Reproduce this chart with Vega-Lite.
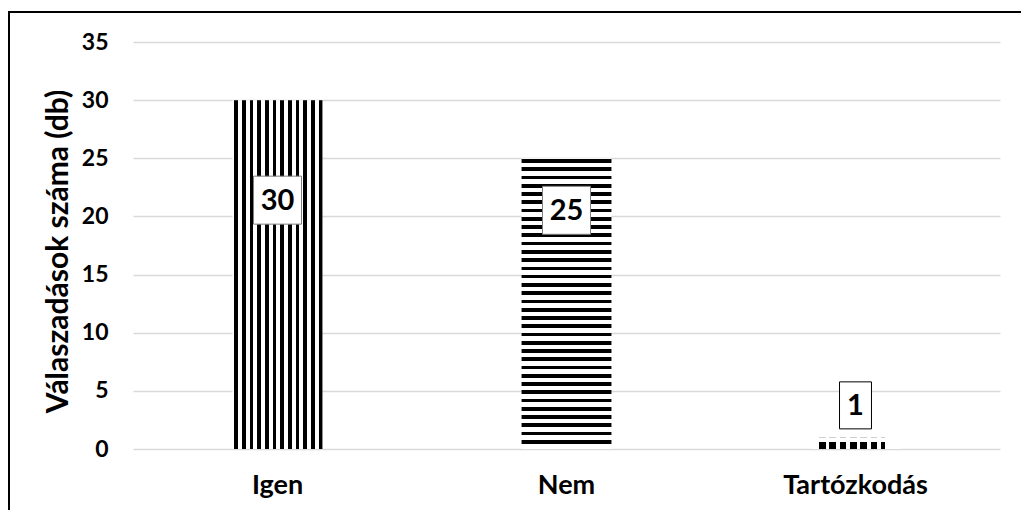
{
  "$schema": "https://vega.github.io/schema/vega-lite/v6.json",
  "width": 867,
  "height": 407,
  "autosize": {"type": "none"},
  "padding": {"left": 133, "top": 42, "right": 21, "bottom": 61},
  "background": "white",
  "data": {
    "values": [
      {"valasz": "Igen", "db": 30},
      {"valasz": "Nem", "db": 25},
      {"valasz": "Tartózkodás", "db": 1}
    ]
  },
  "encoding": {
    "x": {
      "field": "valasz",
      "type": "nominal",
      "sort": null,
      "scale": {"paddingInner": 0.689, "paddingOuter": 0.3445},
      "axis": {
        "title": null,
        "labelAngle": 0,
        "labelFont": "Lato",
        "labelFontSize": 27,
        "labelFontWeight": "bold",
        "labelColor": "#000000",
        "labelPadding": 23,
        "ticks": false,
        "domain": false
      }
    },
    "y": {
      "field": "db",
      "type": "quantitative",
      "scale": {"domain": [0, 35], "nice": false},
      "axis": {
        "title": "Válaszadások száma (db)",
        "titleFont": "Lato",
        "titleFontSize": 30,
        "titleFontWeight": "bold",
        "titleColor": "#000000",
        "titlePadding": 8,
        "titleY": 209,
        "values": [0, 5, 10, 15, 20, 25, 30, 35],
        "labelFont": "Lato",
        "labelFontSize": 23,
        "labelFontWeight": "bold",
        "labelColor": "#000000",
        "labelPadding": 25,
        "ticks": false,
        "domain": false,
        "grid": true,
        "gridColor": "#d9d9d9",
        "gridWidth": 1.3
      }
    }
  },
  "layer": [
    {
      "data": {"values": [{}]},
      "mark": {"type": "rect", "fill": null, "stroke": "#000000", "strokeWidth": 2},
      "encoding": {
        "x": {"value": -124},
        "x2": {"value": 889},
        "y": {"value": -30},
        "y2": {"value": 470}
      }
    },
    {
      "transform": [{"filter": "datum.valasz === 'Igen'"}],
      "layer": [
        {
          "mark": {
            "type": "bar",
            "color": {
              "gradient": "linear",
              "x1": 0, "y1": 0, "x2": 1, "y2": 0,
              "stops": [
                {"offset": 0, "color": "#ffffff"},
                {"offset": 0.02, "color": "#ffffff"}, {"offset": 0.02, "color": "#000000"},
                {"offset": 0.0602, "color": "#000000"}, {"offset": 0.0602, "color": "#ffffff"},
                {"offset": 0.1054, "color": "#ffffff"}, {"offset": 0.1054, "color": "#000000"},
                {"offset": 0.1456, "color": "#000000"}, {"offset": 0.1456, "color": "#ffffff"},
                {"offset": 0.1909, "color": "#ffffff"}, {"offset": 0.1909, "color": "#000000"},
                {"offset": 0.2311, "color": "#000000"}, {"offset": 0.2311, "color": "#ffffff"},
                {"offset": 0.2763, "color": "#ffffff"}, {"offset": 0.2763, "color": "#000000"},
                {"offset": 0.3165, "color": "#000000"}, {"offset": 0.3165, "color": "#ffffff"},
                {"offset": 0.3618, "color": "#ffffff"}, {"offset": 0.3618, "color": "#000000"},
                {"offset": 0.402, "color": "#000000"}, {"offset": 0.402, "color": "#ffffff"},
                {"offset": 0.4472, "color": "#ffffff"}, {"offset": 0.4472, "color": "#000000"},
                {"offset": 0.4874, "color": "#000000"}, {"offset": 0.4874, "color": "#ffffff"},
                {"offset": 0.5326, "color": "#ffffff"}, {"offset": 0.5326, "color": "#000000"},
                {"offset": 0.5728, "color": "#000000"}, {"offset": 0.5728, "color": "#ffffff"},
                {"offset": 0.6181, "color": "#ffffff"}, {"offset": 0.6181, "color": "#000000"},
                {"offset": 0.6583, "color": "#000000"}, {"offset": 0.6583, "color": "#ffffff"},
                {"offset": 0.7035, "color": "#ffffff"}, {"offset": 0.7035, "color": "#000000"},
                {"offset": 0.7437, "color": "#000000"}, {"offset": 0.7437, "color": "#ffffff"},
                {"offset": 0.789, "color": "#ffffff"}, {"offset": 0.789, "color": "#000000"},
                {"offset": 0.8292, "color": "#000000"}, {"offset": 0.8292, "color": "#ffffff"},
                {"offset": 0.8744, "color": "#ffffff"}, {"offset": 0.8744, "color": "#000000"},
                {"offset": 0.9146, "color": "#000000"}, {"offset": 0.9146, "color": "#ffffff"},
                {"offset": 0.9598, "color": "#ffffff"}, {"offset": 0.9598, "color": "#000000"},
                {"offset": 1, "color": "#000000"}
              ]
            }
          }
        },
        {
          "mark": {"type": "point", "shape": "square", "size": 2304, "filled": true, "fill": "#ffffff", "stroke": "#7f7f7f", "strokeWidth": 1, "opacity": 1, "yOffset": 100}
        },
        {
          "mark": {"type": "text", "font": "Lato", "fontSize": 29, "fontWeight": "bold", "color": "#000000", "baseline": "middle", "yOffset": 101},
          "encoding": {"text": {"field": "db", "type": "quantitative"}}
        }
      ]
    },
    {
      "transform": [{"filter": "datum.valasz === 'Nem'"}],
      "layer": [
        {
          "mark": {
            "type": "bar",
            "color": {
              "gradient": "linear",
              "x1": 0, "y1": 0, "x2": 0, "y2": 1,
              "stops": [
                {"offset": 0, "color": "#ffffff"},
                {"offset": 0.003, "color": "#ffffff"}, {"offset": 0.003, "color": "#000000"},
                {"offset": 0.0158, "color": "#000000"}, {"offset": 0.0158, "color": "#ffffff"},
                {"offset": 0.0314, "color": "#ffffff"}, {"offset": 0.0314, "color": "#000000"},
                {"offset": 0.0442, "color": "#000000"}, {"offset": 0.0442, "color": "#ffffff"},
                {"offset": 0.0598, "color": "#ffffff"}, {"offset": 0.0598, "color": "#000000"},
                {"offset": 0.0726, "color": "#000000"}, {"offset": 0.0726, "color": "#ffffff"},
                {"offset": 0.0882, "color": "#ffffff"}, {"offset": 0.0882, "color": "#000000"},
                {"offset": 0.101, "color": "#000000"}, {"offset": 0.101, "color": "#ffffff"},
                {"offset": 0.1166, "color": "#ffffff"}, {"offset": 0.1166, "color": "#000000"},
                {"offset": 0.1294, "color": "#000000"}, {"offset": 0.1294, "color": "#ffffff"},
                {"offset": 0.1451, "color": "#ffffff"}, {"offset": 0.1451, "color": "#000000"},
                {"offset": 0.1579, "color": "#000000"}, {"offset": 0.1579, "color": "#ffffff"},
                {"offset": 0.1735, "color": "#ffffff"}, {"offset": 0.1735, "color": "#000000"},
                {"offset": 0.1863, "color": "#000000"}, {"offset": 0.1863, "color": "#ffffff"},
                {"offset": 0.2019, "color": "#ffffff"}, {"offset": 0.2019, "color": "#000000"},
                {"offset": 0.2147, "color": "#000000"}, {"offset": 0.2147, "color": "#ffffff"},
                {"offset": 0.2303, "color": "#ffffff"}, {"offset": 0.2303, "color": "#000000"},
                {"offset": 0.2431, "color": "#000000"}, {"offset": 0.2431, "color": "#ffffff"},
                {"offset": 0.2587, "color": "#ffffff"}, {"offset": 0.2587, "color": "#000000"},
                {"offset": 0.2715, "color": "#000000"}, {"offset": 0.2715, "color": "#ffffff"},
                {"offset": 0.2871, "color": "#ffffff"}, {"offset": 0.2871, "color": "#000000"},
                {"offset": 0.2999, "color": "#000000"}, {"offset": 0.2999, "color": "#ffffff"},
                {"offset": 0.3155, "color": "#ffffff"}, {"offset": 0.3155, "color": "#000000"},
                {"offset": 0.3283, "color": "#000000"}, {"offset": 0.3283, "color": "#ffffff"},
                {"offset": 0.3439, "color": "#ffffff"}, {"offset": 0.3439, "color": "#000000"},
                {"offset": 0.3567, "color": "#000000"}, {"offset": 0.3567, "color": "#ffffff"},
                {"offset": 0.3723, "color": "#ffffff"}, {"offset": 0.3723, "color": "#000000"},
                {"offset": 0.3851, "color": "#000000"}, {"offset": 0.3851, "color": "#ffffff"},
                {"offset": 0.4007, "color": "#ffffff"}, {"offset": 0.4007, "color": "#000000"},
                {"offset": 0.4135, "color": "#000000"}, {"offset": 0.4135, "color": "#ffffff"},
                {"offset": 0.4292, "color": "#ffffff"}, {"offset": 0.4292, "color": "#000000"},
                {"offset": 0.442, "color": "#000000"}, {"offset": 0.442, "color": "#ffffff"},
                {"offset": 0.4576, "color": "#ffffff"}, {"offset": 0.4576, "color": "#000000"},
                {"offset": 0.4704, "color": "#000000"}, {"offset": 0.4704, "color": "#ffffff"},
                {"offset": 0.486, "color": "#ffffff"}, {"offset": 0.486, "color": "#000000"},
                {"offset": 0.4988, "color": "#000000"}, {"offset": 0.4988, "color": "#ffffff"},
                {"offset": 0.5144, "color": "#ffffff"}, {"offset": 0.5144, "color": "#000000"},
                {"offset": 0.5272, "color": "#000000"}, {"offset": 0.5272, "color": "#ffffff"},
                {"offset": 0.5428, "color": "#ffffff"}, {"offset": 0.5428, "color": "#000000"},
                {"offset": 0.5556, "color": "#000000"}, {"offset": 0.5556, "color": "#ffffff"},
                {"offset": 0.5712, "color": "#ffffff"}, {"offset": 0.5712, "color": "#000000"},
                {"offset": 0.584, "color": "#000000"}, {"offset": 0.584, "color": "#ffffff"},
                {"offset": 0.5996, "color": "#ffffff"}, {"offset": 0.5996, "color": "#000000"},
                {"offset": 0.6124, "color": "#000000"}, {"offset": 0.6124, "color": "#ffffff"},
                {"offset": 0.628, "color": "#ffffff"}, {"offset": 0.628, "color": "#000000"},
                {"offset": 0.6408, "color": "#000000"}, {"offset": 0.6408, "color": "#ffffff"},
                {"offset": 0.6564, "color": "#ffffff"}, {"offset": 0.6564, "color": "#000000"},
                {"offset": 0.6692, "color": "#000000"}, {"offset": 0.6692, "color": "#ffffff"},
                {"offset": 0.6848, "color": "#ffffff"}, {"offset": 0.6848, "color": "#000000"},
                {"offset": 0.6976, "color": "#000000"}, {"offset": 0.6976, "color": "#ffffff"},
                {"offset": 0.7133, "color": "#ffffff"}, {"offset": 0.7133, "color": "#000000"},
                {"offset": 0.7261, "color": "#000000"}, {"offset": 0.7261, "color": "#ffffff"},
                {"offset": 0.7417, "color": "#ffffff"}, {"offset": 0.7417, "color": "#000000"},
                {"offset": 0.7545, "color": "#000000"}, {"offset": 0.7545, "color": "#ffffff"},
                {"offset": 0.7701, "color": "#ffffff"}, {"offset": 0.7701, "color": "#000000"},
                {"offset": 0.7829, "color": "#000000"}, {"offset": 0.7829, "color": "#ffffff"},
                {"offset": 0.7985, "color": "#ffffff"}, {"offset": 0.7985, "color": "#000000"},
                {"offset": 0.8113, "color": "#000000"}, {"offset": 0.8113, "color": "#ffffff"},
                {"offset": 0.8269, "color": "#ffffff"}, {"offset": 0.8269, "color": "#000000"},
                {"offset": 0.8397, "color": "#000000"}, {"offset": 0.8397, "color": "#ffffff"},
                {"offset": 0.8553, "color": "#ffffff"}, {"offset": 0.8553, "color": "#000000"},
                {"offset": 0.8681, "color": "#000000"}, {"offset": 0.8681, "color": "#ffffff"},
                {"offset": 0.8837, "color": "#ffffff"}, {"offset": 0.8837, "color": "#000000"},
                {"offset": 0.8965, "color": "#000000"}, {"offset": 0.8965, "color": "#ffffff"},
                {"offset": 0.9121, "color": "#ffffff"}, {"offset": 0.9121, "color": "#000000"},
                {"offset": 0.9249, "color": "#000000"}, {"offset": 0.9249, "color": "#ffffff"},
                {"offset": 0.9405, "color": "#ffffff"}, {"offset": 0.9405, "color": "#000000"},
                {"offset": 0.9533, "color": "#000000"}, {"offset": 0.9533, "color": "#ffffff"},
                {"offset": 0.9689, "color": "#ffffff"}, {"offset": 0.9689, "color": "#000000"},
                {"offset": 0.9817, "color": "#000000"}, {"offset": 0.9817, "color": "#ffffff"},
                {"offset": 1, "color": "#ffffff"}
              ]
            }
          }
        },
        {
          "mark": {"type": "point", "shape": "square", "size": 2304, "filled": true, "fill": "#ffffff", "stroke": "#7f7f7f", "strokeWidth": 1, "opacity": 1, "yOffset": 52}
        },
        {
          "mark": {"type": "text", "font": "Lato", "fontSize": 29, "fontWeight": "bold", "color": "#000000", "baseline": "middle", "yOffset": 53},
          "encoding": {"text": {"field": "db", "type": "quantitative"}}
        }
      ]
    },
    {
      "transform": [{"filter": "datum.valasz === 'Tartózkodás'"}],
      "layer": [
        {
          "mark": {
            "type": "bar",
            "color": {
              "gradient": "linear",
              "x1": 0, "y1": 0, "x2": 1, "y2": 0,
              "stops": [
                {"offset": 0, "color": "#ffffff"},
                {"offset": 0.094, "color": "#ffffff"}, {"offset": 0.094, "color": "#000000"},
                {"offset": 0.169, "color": "#000000"}, {"offset": 0.169, "color": "#ffffff"},
                {"offset": 0.209, "color": "#ffffff"}, {"offset": 0.209, "color": "#000000"},
                {"offset": 0.284, "color": "#000000"}, {"offset": 0.284, "color": "#ffffff"},
                {"offset": 0.324, "color": "#ffffff"}, {"offset": 0.324, "color": "#000000"},
                {"offset": 0.399, "color": "#000000"}, {"offset": 0.399, "color": "#ffffff"},
                {"offset": 0.439, "color": "#ffffff"}, {"offset": 0.439, "color": "#000000"},
                {"offset": 0.514, "color": "#000000"}, {"offset": 0.514, "color": "#ffffff"},
                {"offset": 0.554, "color": "#ffffff"}, {"offset": 0.554, "color": "#000000"},
                {"offset": 0.629, "color": "#000000"}, {"offset": 0.629, "color": "#ffffff"},
                {"offset": 0.669, "color": "#ffffff"}, {"offset": 0.669, "color": "#000000"},
                {"offset": 0.744, "color": "#000000"}, {"offset": 0.744, "color": "#ffffff"},
                {"offset": 0.784, "color": "#ffffff"}, {"offset": 0.784, "color": "#000000"},
                {"offset": 0.83, "color": "#000000"}, {"offset": 0.83, "color": "#ffffff"},
                {"offset": 1, "color": "#ffffff"}
              ]
            }
          }
        },
        {
          "mark": {
            "type": "bar",
            "color": {
              "gradient": "linear",
              "x1": 0, "y1": 0, "x2": 0, "y2": 1,
              "stops": [
                {"offset": 0, "color": "rgba(255,255,255,1)"},
                {"offset": 0.42, "color": "rgba(255,255,255,1)"},
                {"offset": 0.42, "color": "rgba(255,255,255,0)"},
                {"offset": 1, "color": "rgba(255,255,255,0)"}
              ]
            }
          }
        },
        {
          "mark": {"type": "point", "shape": "M-0.68,-1H0.68V1H-0.68Z", "size": 2209, "filled": true, "fill": "#ffffff", "stroke": "#000000", "strokeWidth": 1, "opacity": 1, "yOffset": -32}
        },
        {
          "mark": {"type": "text", "font": "Lato", "fontSize": 29, "fontWeight": "bold", "color": "#000000", "baseline": "middle", "yOffset": -31},
          "encoding": {"text": {"field": "db", "type": "quantitative"}}
        }
      ]
    }
  ],
  "config": {"view": {"stroke": null}}
}
